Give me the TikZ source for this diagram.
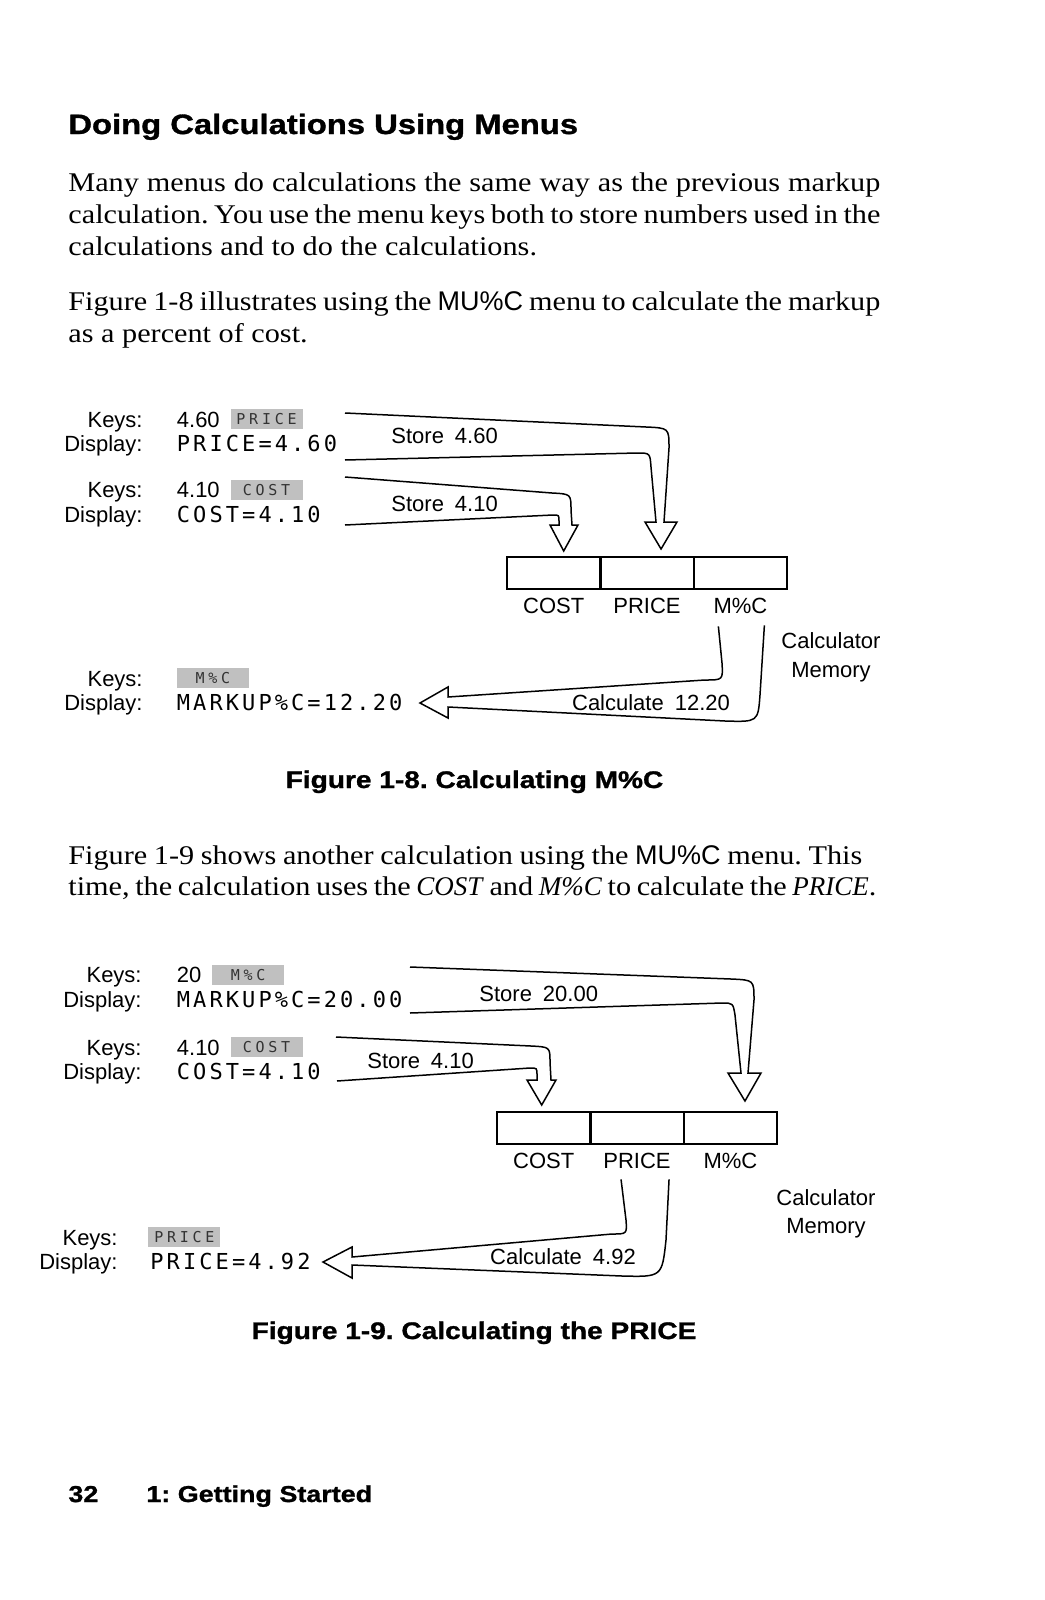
\documentclass[tikz,border=0pt]{standalone}
\usepackage{fontspec}
\setmainfont{Liberation Serif}[UprightFeatures={FakeStretch=1.12}]
\setsansfont{Liberation Sans}
\newfontfamily\lcdfont{DejaVu Sans Mono}[LetterSpace=14]
\newfontfamily\keyfont{DejaVu Sans Mono}[LetterSpace=25]
\newfontfamily\headfont{Liberation Sans}[FakeStretch=1.17, BoldFeatures={FakeBold=1.2}]
\usetikzlibrary{positioning}
\definecolor{keygray}{RGB}{192,192,192}
\frenchspacing

\begin{document}
\begin{tikzpicture}[x=0.5pt, y=-0.5pt,
  bodyline/.style={anchor=base west, inner sep=0pt, font=\fontsize{13.5}{15.9}\selectfont},
  headline/.style={anchor=base west, inner sep=0pt, font=\headfont\bfseries\fontsize{14}{16}\selectfont},
  caption/.style={anchor=base, inner sep=0pt, font=\headfont\bfseries\fontsize{12}{14}\selectfont},
  footer/.style={anchor=base west, inner sep=0pt, font=\headfont\bfseries\fontsize{11.5}{13}\selectfont},
  rowlabel/.style={anchor=base east, inner sep=0pt, font=\sffamily\fontsize{11}{13}\selectfont},
  entry/.style={anchor=base west, inner sep=0pt, font=\sffamily\fontsize{11}{13}\selectfont},
  lcd/.style={anchor=base west, inner sep=0pt, font=\lcdfont\fontsize{11}{12}\selectfont},
  softkey/.style={fill=keygray, text=black!80, inner sep=0pt, minimum width=36pt, minimum height=10pt, font=\keyfont\fontsize{7.5}{8}\selectfont},
  cell/.style={draw, line width=1.2pt, minimum width=46.67pt, minimum height=16pt, inner sep=0pt, outer sep=0pt},
  cellname/.style={inner sep=0pt, font=\sffamily\fontsize{11}{13}\selectfont},
  memo/.style={align=center, inner sep=0pt, font=\sffamily\fontsize{11}{14.25}\selectfont},
  flow/.style={line width=0.75pt}
]
  \fill[white] (0,0) rectangle (1044,1600);
  \useasboundingbox (0,0) rectangle (1044,1600);

  % heading and text
  \node[headline] (title) at (68,134) {Doing Calculations Using Menus};
  \node[bodyline] (p1a) at (68,191.5) {\makebox[406pt][s]{Many menus do calculations the same way as the previous markup}};
  \node[bodyline] (p1b) at (68,223.3) {\makebox[406pt][s]{calculation. You use the menu keys both to store numbers used in the}};
  \node[bodyline] (p1c) at (68,255) {calculations and to do the calculations.};
  \node[bodyline] (p2a) at (68,310) {\makebox[406pt][s]{Figure 1-8 illustrates using the {\sffamily MU\%C} menu to calculate the markup}};
  \node[bodyline] (p2b) at (68,342) {as a percent of cost.};

  % figure 1-8: keys and display
  \node[rowlabel] (ka1) at (143,427) {Keys:};
  \node[entry] (va1) at (176.5,427) {4.60};
  \node[softkey, right=5pt of va1] (sk1) {PRICE};
  \node[rowlabel] (da1) at (143,451) {Display:};
  \node[lcd] (sa1) at (176.5,451) {PRICE=4.60};
  \node[rowlabel] (ka2) at (143,497.5) {Keys:};
  \node[entry] (va2) at (176.5,497.5) {4.10};
  \node[softkey, right=5pt of va2] (sk2) {COST};
  \node[rowlabel] (da2) at (143,522) {Display:};
  \node[lcd] (sa2) at (176.5,522) {COST=4.10};
  \node[rowlabel] (ka3) at (143,686) {Keys:};
  \node[softkey, anchor=west] (sk3) at (176.5,678) {M\%C};
  \node[rowlabel] (da3) at (143,710.5) {Display:};
  \node[lcd] (sa3) at (176.5,710.5) {MARKUP\%C=12.20};
  \node[entry] (st1) at (391,443.5) {Store\enspace 4.60};
  \node[entry] (st2) at (391,511) {Store\enspace 4.10};

  % figure 1-8: memory
  \node[cell] (cost1) at (553.7,573) {};
  \node[cell, right=0pt of cost1] (price1) {};
  \node[cell, right=0pt of price1] (mpc1) {};
  \node[cellname, below=4.5pt of cost1] (lc1) {COST};
  \node[cellname, below=4.5pt of price1] (lp1) {PRICE};
  \node[cellname, below=4.5pt of mpc1] (lm1) {M\%C};
  \node[memo] (mem1) at (831,657.5) {Calculator\\Memory};
  \node[entry, anchor=base] (calc1) at (651,710) {Calculate\enspace 12.20};

  % figure 1-8: arrows
  \coordinate (ua1) at (345,413);
  \coordinate (la1) at (345,460);
  \coordinate (ta1) at ([xshift=7pt,yshift=4pt]price1.north);
  \coordinate (ub1) at (345,477);
  \coordinate (lb1) at (345,525);
  \coordinate (tb1) at ([xshift=5pt,yshift=3pt]cost1.north);
  \coordinate (ri1) at ([xshift=-11pt,yshift=-6pt]lm1.south);
  \coordinate (ro1) at ([xshift=12pt,yshift=-5.5pt]lm1.south);
  \coordinate (tc1) at (420,703);
  \draw[flow] (ua1) -- (646,427) .. controls (669,428) .. (669,448) -- (664,522) -- (677,522) -- (ta1)
    -- (645,522) -- (656,522) -- (651,467) .. controls (650,453) .. (637,453) -- (la1);
  \draw[flow] (ub1) -- (552,493) .. controls (571,494) .. (571,510) -- (572,525) -- (578,525) -- (tb1)
    -- (550,525) -- (559,525) -- (559,521) .. controls (559,515) .. (553,515) -- (lb1);
  \draw[flow] (ri1) -- (722,663) .. controls (723,680) .. (705,680) -- (448,697) -- (448,687) -- (tc1)
    -- (448,718) -- (448,707) -- (725,721) .. controls (758,722) .. (760,695) -- (ro1);

  \node[caption] (cap1) at (474.5,788) {Figure 1-8. Calculating M\%C};

  \node[bodyline] (p3a) at (68,864) {\makebox[397pt][s]{Figure 1-9 shows another calculation using the {\sffamily MU\%C} menu. This}};
  \node[bodyline] (p3b) at (68,895.5) {\makebox[404pt][s]{time, the calculation uses the \textit{COST} and \textit{M\%C} to calculate the \textit{PRICE}.}};

  % figure 1-9: keys and display
  \node[rowlabel] (kb1) at (142,982.5) {Keys:};
  \node[entry] (vb1) at (176.5,982.5) {20};
  \node[softkey, right=5pt of vb1] (sk4) {M\%C};
  \node[rowlabel] (db1) at (142,1007) {Display:};
  \node[lcd] (sb1) at (176.5,1007) {MARKUP\%C=20.00};
  \node[rowlabel] (kb2) at (142,1055) {Keys:};
  \node[entry] (vb2) at (176.5,1055) {4.10};
  \node[softkey, right=5pt of vb2] (sk5) {COST};
  \node[rowlabel] (db2) at (142,1079.5) {Display:};
  \node[lcd] (sb2) at (176.5,1079.5) {COST=4.10};
  \node[rowlabel] (kb3) at (118,1245) {Keys:};
  \node[softkey, anchor=west] (sk6) at (148,1237) {PRICE};
  \node[rowlabel] (db3) at (118,1269.5) {Display:};
  \node[lcd] (sb3) at (150,1269.5) {PRICE=4.92};
  \node[entry] (st3) at (479,1001.5) {Store\enspace 20.00};
  \node[entry] (st4) at (367,1068) {Store\enspace 4.10};

  % figure 1-9: memory
  \node[cell] (cost2) at (543.7,1128) {};
  \node[cell, right=0pt of cost2] (price2) {};
  \node[cell, right=0pt of price2] (mpc2) {};
  \node[cellname, below=4.5pt of cost2] (lc2) {COST};
  \node[cellname, below=4.5pt of price2] (lp2) {PRICE};
  \node[cellname, below=4.5pt of mpc2] (lm2) {M\%C};
  \node[memo] (mem2) at (826,1214) {Calculator\\Memory};
  \node[entry, anchor=base] (calc2) at (563,1264) {Calculate\enspace 4.92};

  % figure 1-9: arrows
  \coordinate (ua2) at (410,967);
  \coordinate (la2) at (410,1013);
  \coordinate (ta2) at ([xshift=7.3pt,yshift=5.5pt]mpc2.north);
  \coordinate (ub2) at (336,1037);
  \coordinate (lb2) at (337,1081);
  \coordinate (tb2) at ([xshift=-1pt,yshift=3.5pt]cost2.north);
  \coordinate (ri2) at ([xshift=-8pt,yshift=-5pt]lp2.south);
  \coordinate (ro2) at ([xshift=16pt,yshift=-5pt]lp2.south);
  \coordinate (tc2) at (323,1262);
  \draw[flow] (ua2) -- (731,979) .. controls (754,980) .. (754,1000) -- (748,1073) -- (761,1073) -- (ta2)
    -- (728,1073) -- (741,1073) -- (735,1015) .. controls (733,1003) .. (722,1003) -- (la2);
  \draw[flow] (ub2) -- (531,1046) .. controls (550,1047) .. (550,1062) -- (551,1080) -- (556,1080) -- (tb2)
    -- (527,1080) -- (537,1080) -- (537,1075) .. controls (537,1068) .. (530,1068) -- (lb2);
  \draw[flow] (ri2) -- (626,1220) .. controls (627,1234) .. (612,1234) -- (352,1257) -- (352,1247) -- (tc2)
    -- (352,1278) -- (352,1265) -- (622,1276) .. controls (662,1277) .. (666,1240) -- (ro2);

  \node[caption] (cap2) at (474,1339) {Figure 1-9. Calculating the PRICE};

  % page footer
  \node[footer] (pgno) at (68,1502) {32};
  \node[footer] (chap) at (146,1502) {1: Getting Started};
\end{tikzpicture}
\end{document}
